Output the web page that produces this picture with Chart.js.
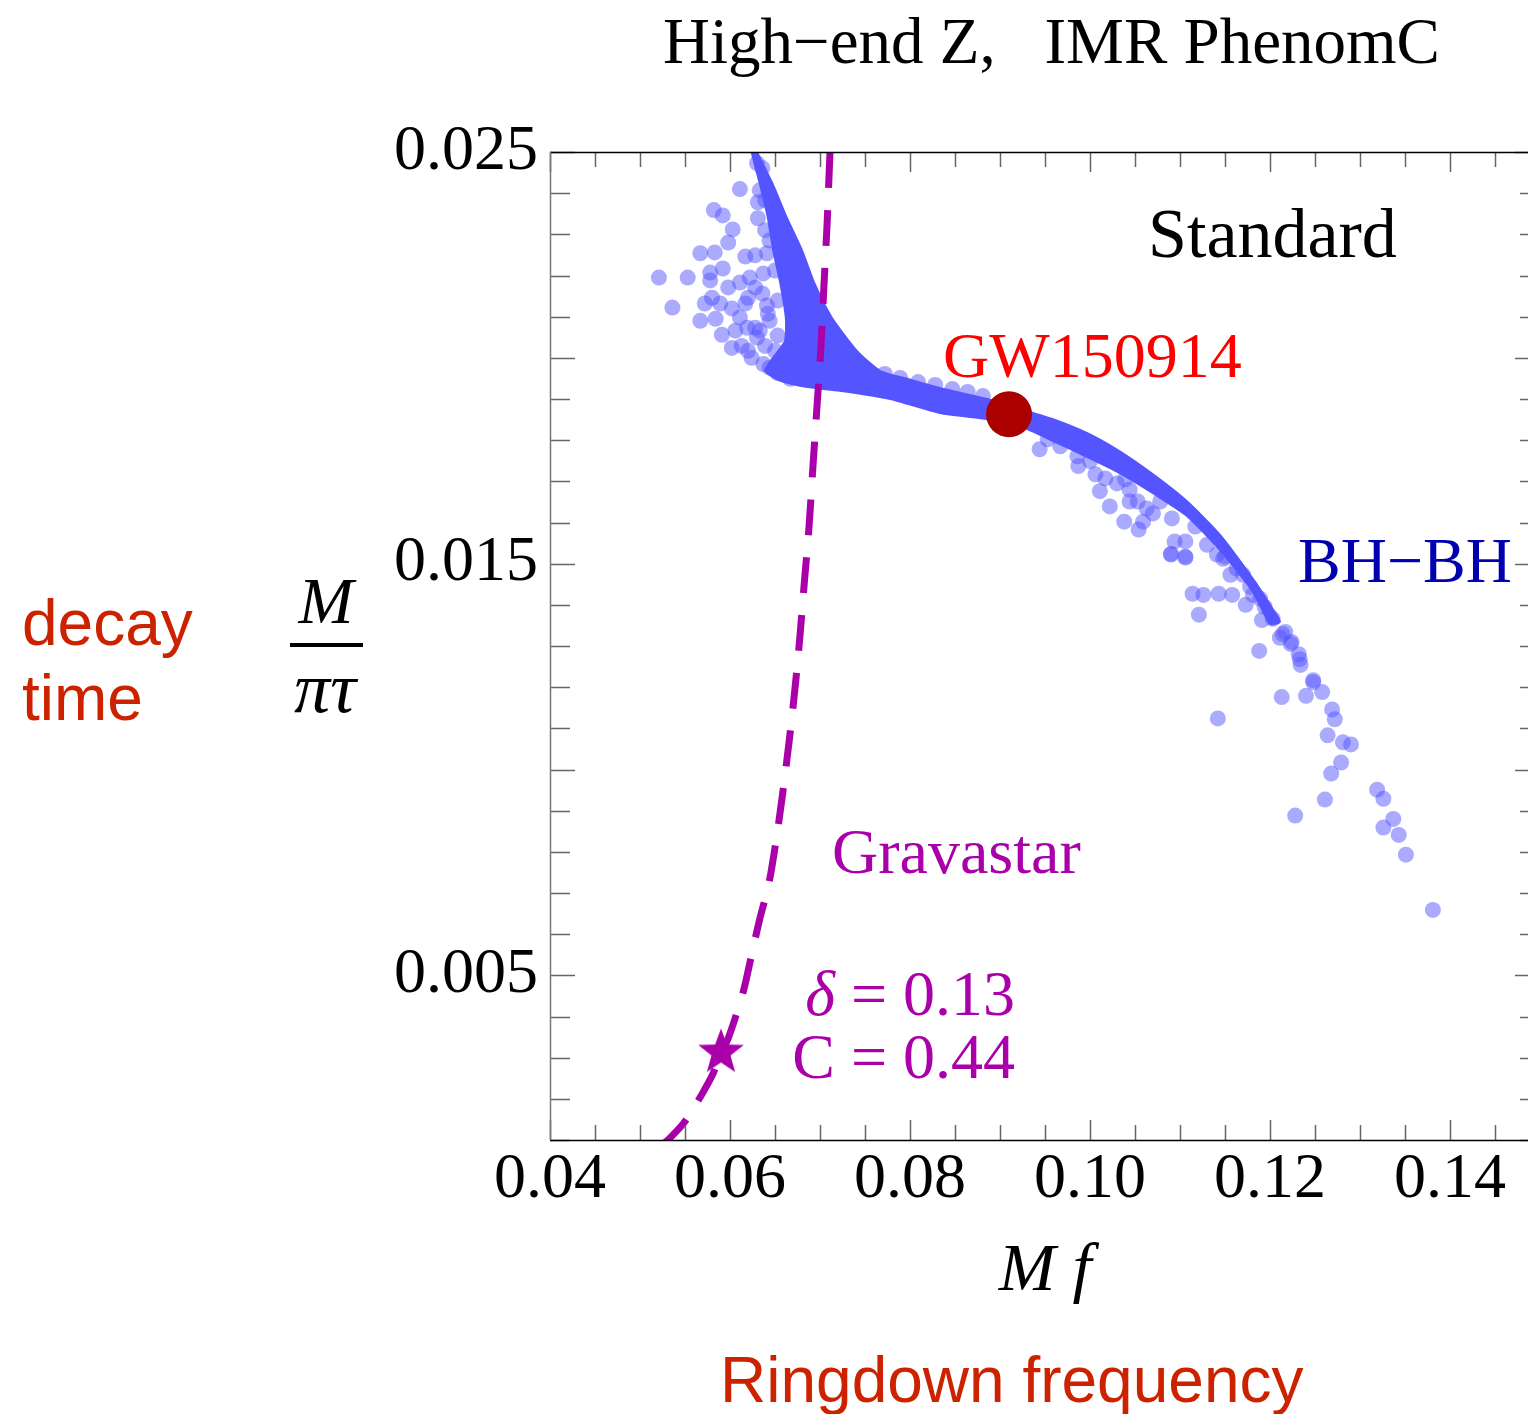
<!DOCTYPE html>
<html><head><meta charset="utf-8">
<script src="https://cdn.jsdelivr.net/npm/chart.js@4/dist/chart.umd.min.js"></script>
<style>html,body{margin:0;padding:0;background:#fff;overflow:hidden;width:1528px;height:1414px}#wrap{position:relative;width:1540px;height:1414px}</style>
</head><body><div id="wrap"><canvas id="c"></canvas></div>
<script>
// ---- axis ticks ----
const xTickLabels = [0.04, 0.06, 0.08, 0.10, 0.12, 0.14];
const xTickMarks = [0.04,0.045,0.05,0.055,0.06,0.065,0.07,0.075,0.08,0.085,0.09,0.095,0.10,0.105,0.11,0.115,0.12,0.125,0.13,0.135,0.14,0.145,0.15];
const yTickLabels = [0.005, 0.015, 0.025];
const yTickMarks = [0.001,0.002,0.003,0.004,0.005,0.006,0.007,0.008,0.009,0.010,0.011,0.012,0.013,0.014,0.015,0.016,0.017,0.018,0.019,0.020,0.021,0.022,0.023,0.024,0.025];

// ---- dense BH-BH band outline (upper edge then lower edge back) ----
const bandUpper = [[0.0630,0.02500],[0.0647,0.02424],[0.0663,0.02341],[0.0680,0.02261],[0.0694,0.02180],[0.0713,0.02098],[0.0741,0.02017],[0.0767,0.01968],[0.0797,0.01949],[0.0833,0.01927],[0.0886,0.01900],[0.0922,0.01876],[0.0959,0.01851],[0.0997,0.01817],[0.1033,0.01773],[0.1070,0.01717],[0.1108,0.01651],[0.1144,0.01571],[0.1181,0.01463],[0.1203,0.01390],[0.1211,0.01359]];
const bandLower = [[0.1200,0.01354],[0.1181,0.01432],[0.1144,0.01534],[0.1108,0.01615],[0.1070,0.01671],[0.1033,0.01720],[0.0997,0.01759],[0.0959,0.01798],[0.0922,0.01834],[0.0886,0.01851],[0.0833,0.01866],[0.0778,0.01900],[0.0722,0.01920],[0.0686,0.01929],[0.0656,0.01944],[0.0639,0.01968],[0.0647,0.01998],[0.0661,0.02041],[0.0662,0.02098],[0.0656,0.02180],[0.0648,0.02261],[0.0642,0.02341],[0.0633,0.02424],[0.0624,0.02500]];

// ---- scattered BH-BH points ----
const bhLeftCluster = [[0.0611,0.02410],[0.0582,0.02359],[0.0592,0.02346],[0.0631,0.02339],[0.0603,0.02312],[0.0598,0.02280],[0.0567,0.02254],[0.0583,0.02256],[0.0617,0.02246],[0.0521,0.02195],[0.0553,0.02195],[0.0578,0.02207],[0.0592,0.02217],[0.0578,0.02188],[0.0598,0.02171],[0.0611,0.02183],[0.0622,0.02195],[0.0628,0.02171],[0.0536,0.02122],[0.0572,0.02132],[0.0580,0.02146],[0.0589,0.02132],[0.0602,0.02120],[0.0617,0.02132],[0.0567,0.02090],[0.0584,0.02095],[0.0611,0.02098],[0.0591,0.02056],[0.0606,0.02066],[0.0602,0.02024],[0.0624,0.02000],[0.0637,0.01985],[0.0619,0.02073],[0.0641,0.02127],[0.0630,0.02049],[0.0628,0.02073],[0.0642,0.02107],[0.0637,0.02205],[0.0630,0.02473],[0.0631,0.02378],[0.0628,0.02249],[0.0641,0.02254],[0.0636,0.02156],[0.0620,0.02146],[0.0636,0.02461],[0.0633,0.02407],[0.0639,0.02310],[0.0650,0.02017],[0.0661,0.01993],[0.0672,0.01973],[0.0653,0.01963],[0.0667,0.01949],[0.0644,0.01976],[0.0683,0.01949]];
const bhLobeEdge = [[0.0639,0.02383],[0.0644,0.02285],[0.0650,0.02212],[0.0653,0.02139],[0.0644,0.02090],[0.0653,0.02054],[0.0667,0.02017],[0.0678,0.01980],[0.0691,0.01963],[0.0633,0.02066],[0.0639,0.02029],[0.0620,0.02017],[0.0613,0.02029]];
const bhUpperEdge = [[0.0772,0.01961],[0.0789,0.01951],[0.0809,0.01941],[0.0828,0.01934],[0.0847,0.01924],[0.0864,0.01917],[0.0881,0.01907]];
const bhLowerEdge = [[0.0967,0.01785],[0.1000,0.01749],[0.1039,0.01705],[0.1078,0.01651],[0.1117,0.01590],[0.1150,0.01517],[0.1178,0.01444],[0.1194,0.01395],[0.1217,0.01334],[0.1224,0.01310]];
const bhRightCluster = [[0.0944,0.01778],[0.0953,0.01802],[0.0986,0.01761],[0.0987,0.01737],[0.1006,0.01717],[0.1011,0.01676],[0.1017,0.01707],[0.1030,0.01695],[0.1022,0.01639],[0.1044,0.01680],[0.1044,0.01651],[0.1038,0.01602],[0.1053,0.01651],[0.1063,0.01634],[0.1070,0.01622],[0.1054,0.01583],[0.1059,0.01602],[0.1091,0.01610],[0.1094,0.01554],[0.1106,0.01554],[0.1090,0.01524],[0.1106,0.01517],[0.1130,0.01546],[0.1114,0.01427],[0.1126,0.01424],[0.1143,0.01427],[0.1158,0.01424],[0.1156,0.01473],[0.1173,0.01400],[0.1121,0.01376],[0.1148,0.01512],[0.1163,0.01488],[0.1181,0.01424]];
const bhTail = [[0.1141,0.01522],[0.1170,0.01473],[0.1189,0.01415],[0.1191,0.01363],[0.1203,0.01366],[0.1211,0.01320],[0.1214,0.01329],[0.1223,0.01305],[0.1232,0.01280],[0.1233,0.01268],[0.1234,0.01254],[0.1248,0.01217],[0.1248,0.01212],[0.1258,0.01188],[0.1269,0.01146],[0.1272,0.01122],[0.1264,0.01083],[0.1281,0.01066],[0.1290,0.01061],[0.1279,0.01017],[0.1268,0.00990],[0.1319,0.00951],[0.1326,0.00929],[0.1337,0.00880],[0.1326,0.00859],[0.1343,0.00841],[0.1351,0.00793],[0.1381,0.00659],[0.1261,0.00927],[0.1228,0.00888],[0.1213,0.01176],[0.1240,0.01179],[0.1188,0.01288],[0.1142,0.01124],[0.1090,0.01522],[0.1106,0.01515]];

// ---- gravastar curve and marker ----
const gravastarCurve = [[0.07111,0.02500],[0.07078,0.02322],[0.07044,0.02176],[0.07011,0.02029],[0.06967,0.01883],[0.06922,0.01737],[0.06878,0.01590],[0.06822,0.01444],[0.06767,0.01298],[0.06700,0.01151],[0.06622,0.01005],[0.06533,0.00859],[0.06433,0.00724],[0.06333,0.00639],[0.06244,0.00554],[0.06156,0.00468],[0.06056,0.00395],[0.05978,0.00346],[0.05900,0.00310],[0.05811,0.00261],[0.05711,0.00220],[0.05611,0.00183],[0.05478,0.00139],[0.05311,0.00100],[0.05250,0.00090]];
const gravastarStar = [[0.0590,0.00315]];
const gw150914 = [[0.0910,0.01863]];

const toXY = a => a.map(p => ({x: p[0], y: p[1]}));

// filled 5-point star image for the gravastar marker
const starImg = document.createElement('canvas');
starImg.width = 52; starImg.height = 52;
(function(){
  const c = starImg.getContext('2d');
  c.fillStyle = '#aa00aa';
  c.beginPath();
  for (let i = 0; i < 10; i++) {
    const r = i % 2 === 0 ? 24 : 10;
    const a = -Math.PI/2 + i*Math.PI/5;
    const px = 26 + r*Math.cos(a), py = 27 + r*Math.sin(a);
    if (i === 0) c.moveTo(px, py); else c.lineTo(px, py);
  }
  c.closePath(); c.fill();
})();

const serif = "'Liberation Serif', 'Times New Roman', serif";
const sans = "'Liberation Sans', Arial, sans-serif";

const framePlugin = {
  id: 'frame',
  afterDatasetsDraw(chart) {
    const {ctx, chartArea: a, scales: {x, y}} = chart;
    ctx.save();
    ctx.lineWidth = 1.5;
    ctx.strokeStyle = '#666';
    xTickMarks.forEach(v => {
      const px = Math.round(x.getPixelForValue(v)) + 0.5;
      const major = xTickLabels.some(t => Math.abs(t - v) < 1e-9);
      const len = major ? 20 : 15;
      ctx.beginPath();
      ctx.moveTo(px, a.bottom); ctx.lineTo(px, a.bottom - len);
      ctx.moveTo(px, a.top); ctx.lineTo(px, a.top + len);
      ctx.stroke();
    });
    yTickMarks.forEach((v, i) => {
      const py = Math.round(y.getPixelForValue(v)) + 0.5;
      const major = (i + 1) % 5 === 0;
      const len = major ? 25 : 20;
      ctx.beginPath();
      ctx.moveTo(a.left, py); ctx.lineTo(a.left + len, py);
      ctx.moveTo(a.right, py); ctx.lineTo(a.right - len, py);
      ctx.stroke();
    });
    ctx.strokeStyle = '#000';
    ctx.beginPath();
    ctx.moveTo(a.left, a.top + 0.5); ctx.lineTo(a.right, a.top + 0.5);
    ctx.moveTo(a.left, a.bottom + 0.5); ctx.lineTo(a.right, a.bottom + 0.5);
    ctx.stroke();
    ctx.strokeStyle = '#777';
    ctx.beginPath();
    ctx.moveTo(a.left + 0.5, a.top); ctx.lineTo(a.left + 0.5, a.bottom);
    ctx.moveTo(a.right - 0.5, a.top); ctx.lineTo(a.right - 0.5, a.bottom);
    ctx.stroke();
    ctx.restore();
  },
  afterDraw(chart) {
    const ctx = chart.ctx;
    ctx.save();
    ctx.textBaseline = 'alphabetic';
    const t = (s, x, y, font, color, align) => {
      ctx.font = font; ctx.fillStyle = color; ctx.textAlign = align || 'left';
      ctx.fillText(s, x, y);
    };
    t('High\u2212end Z,   IMR PhenomC', 663, 63, '65px ' + serif, '#000');
    t('Standard', 1148, 257, '70px ' + serif, '#000');
    t('GW150914', 943, 377, '64px ' + serif, '#ff0000');
    t('BH\u2212BH', 1298, 582, '64px ' + serif, '#0000b0');
    t('Gravastar', 832, 873, '64px ' + serif, '#aa00aa');
    ctx.font = '64px ' + serif;
    const rest = ' = 0.13';
    const wRest = ctx.measureText(rest).width;
    t(rest, 1015, 1015, '64px ' + serif, '#aa00aa', 'right');
    t('\u03b4', 1015 - wRest, 1015, 'italic 64px ' + serif, '#aa00aa', 'right');
    t('C = 0.44', 1015, 1078, '64px ' + serif, '#aa00aa', 'right');
    t('decay', 22, 645, '64px ' + sans, '#cc2200');
    t('time', 22, 720, '64px ' + sans, '#cc2200');
    t('M', 326, 623, 'italic 66px ' + serif, '#000', 'center');
    ctx.fillStyle = '#000';
    ctx.fillRect(290, 643, 73, 4);
    t('\u03c0\u03c4', 325, 712, 'italic 72px ' + serif, '#000', 'center');
    t('M f', 1045, 1290, 'italic 68px ' + serif, '#000', 'center');
    t('Ringdown frequency', 720, 1402, '64px ' + sans, '#cc2200');
    ctx.restore();
  }
};

const dot = 'rgba(85,85,255,0.5)';
const cloud = (label, arr) => ({label, data: toXY(arr), pointRadius: 8, pointBackgroundColor: dot, pointBorderWidth: 0});

new Chart(document.getElementById('c'), {
  type: 'scatter',
  data: {
    datasets: [
      {label: 'GW150914', data: toXY(gw150914), pointRadius: 23, pointBackgroundColor: '#aa0000', pointBorderWidth: 0, showLine: false},
      {label: 'Gravastar marker', data: toXY(gravastarStar), pointStyle: starImg, pointRadius: 24, showLine: false},
      {label: 'Gravastar', data: toXY(gravastarCurve), showLine: true, borderColor: '#aa00aa', borderWidth: 7, borderDash: [36, 22], pointRadius: 0, tension: 0.3, fill: false},
      cloud('BH-BH tail', bhTail),
      cloud('BH-BH right', bhRightCluster),
      cloud('BH-BH lower edge', bhLowerEdge),
      cloud('BH-BH upper edge', bhUpperEdge),
      cloud('BH-BH lobe', bhLobeEdge),
      cloud('BH-BH left', bhLeftCluster),
      {label: 'BH-BH band', data: toXY(bandUpper.concat(bandLower)), showLine: true, fill: 'shape', backgroundColor: '#5555ff', borderColor: '#5555ff', borderWidth: 2, pointRadius: 0, tension: 0.2}
    ]
  },
  options: {
    responsive: true,
    maintainAspectRatio: false,
    animation: false,
    events: [],
    layout: {autoPadding: false, padding: {left: 0, top: 152, right: 0, bottom: 0}},
    plugins: {legend: {display: false}, tooltip: {enabled: false}, title: {display: false}},
    scales: {
      x: {
        type: 'linear', position: 'bottom', min: 0.04, max: 0.15,
        afterBuildTicks: s => { s.ticks = xTickLabels.map(v => ({value: v})); },
        afterFit: s => { s.height = 274; s.paddingLeft = 0; s.paddingRight = 0; },
        ticks: {font: {family: 'Liberation Serif', size: 64}, color: '#000', padding: 2, maxRotation: 0, autoSkip: false, callback: v => Number(v).toFixed(2)},
        grid: {display: false, drawTicks: false},
        border: {display: false}
      },
      y: {
        type: 'linear', position: 'left', min: 0.001, max: 0.025,
        afterBuildTicks: s => { s.ticks = yTickLabels.map(v => ({value: v})); },
        afterFit: s => { s.width = 550; s.paddingTop = 0; s.paddingBottom = 0; },
        ticks: {font: {family: 'Liberation Serif', size: 64}, color: '#000', padding: 12, autoSkip: false, callback: v => Number(v).toFixed(3)},
        grid: {display: false, drawTicks: false},
        border: {display: false}
      }
    }
  },
  plugins: [framePlugin]
});
</script>
</body></html>
